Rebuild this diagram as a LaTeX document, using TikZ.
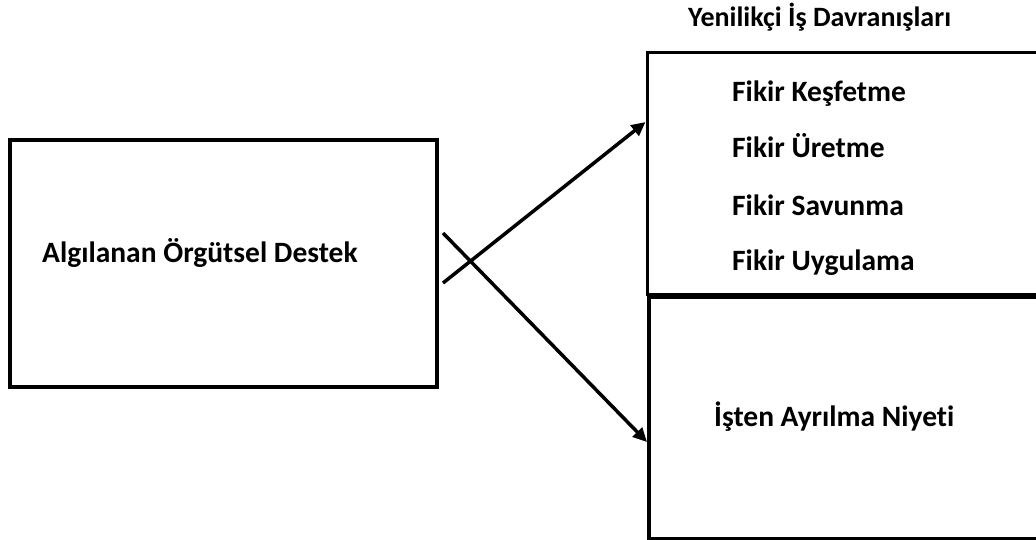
\documentclass[tikz,border=0pt]{standalone}
\usepackage{fontspec}
\setmainfont{Carlito}[Ligatures=NoCommon,RawFeature={-liga;-clig;-calt;-dlig}]
\usetikzlibrary{arrows.meta}
\begin{document}
\begin{tikzpicture}[x=1pt,y=-1pt,
  boxline/.style={draw=black,line width=3.5pt},
  lbl/.style={font=\fontsize{29.5}{34}\selectfont\bfseries,inner sep=0pt,anchor=base west},
  conn/.style={line width=3.5pt,-{Triangle[length=14pt,width=13pt]}}]
\useasboundingbox (0,0) rectangle (1036,539);
\clip (0,0) rectangle (1036,539);
\fill[white] (0,0) rectangle (1036,539);
% boxes
\node[boxline,minimum width=427pt,minimum height=247pt,inner sep=0pt] (src) at (223.5,263.5) {};
\node[boxline,minimum width=420pt,minimum height=242pt,inner sep=0pt,anchor=north west] (top) at (645.5,50.5) {};
\node[boxline,minimum width=420pt,minimum height=242pt,inner sep=0pt,anchor=north west] (bot) at (647,295) {};
% texts
\node[lbl,font=\fontsize{28}{33}\selectfont\bfseries] (t0) at (688,26) {Yenilikçi İş Davranışları};
\node[lbl] (t1) at (42,262) {Algılanan Örgütsel Destek};
\node[lbl] (a1) at (732,101) {Fikir Keşfetme};
\node[lbl] (a2) at (732,157) {Fikir Üretme};
\node[lbl] (a3) at (732,215) {Fikir Savunma};
\node[lbl] (a4) at (732,270) {Fikir Uygulama};
\node[lbl] (b1) at (714,426) {İşten Ayrılma Niyet\kern0pt i};
% connectors
\coordinate (s1) at (443,283);
\coordinate (s2) at (443,233);
\coordinate (e1) at (top.west |- 0,122);
\coordinate (e2) at (bot.west |- 0,442);
\draw[conn] (s1) -- (e1);
\draw[conn] (s2) -- (e2);
\end{tikzpicture}
\end{document}
